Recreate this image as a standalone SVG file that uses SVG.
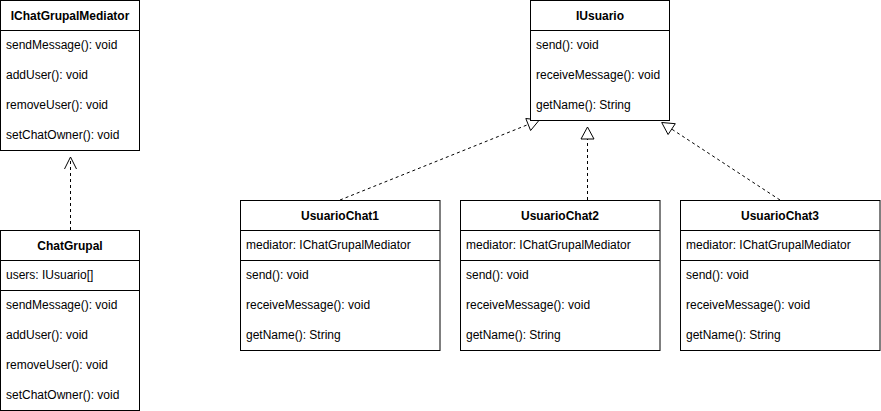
<svg xmlns="http://www.w3.org/2000/svg" width="881" height="411" viewBox="0 0 881 411">
<style>
.box{fill:#fff;stroke:#000;stroke-width:1}
.div{stroke:#000;stroke-width:1;fill:none}
.t{font-family:"Liberation Sans",Arial,sans-serif;font-size:12px;fill:#000}
.h{font-family:"Liberation Sans",Arial,sans-serif;font-size:12px;font-weight:bold;fill:#000;text-anchor:middle}
.dash{stroke:#000;stroke-width:1;fill:none;stroke-dasharray:3 3}
.tri{fill:#fff;stroke:#000;stroke-width:1}
.open{fill:none;stroke:#000;stroke-width:1}
</style>
<rect width="881" height="411" fill="#fff"/>
<g id="connectors">
  <line class="dash" x1="70.5" y1="230" x2="70.5" y2="158"/>
  <polyline class="open" points="64.5,169 70.5,157 76.5,169"/>
  <line class="dash" x1="340" y1="200" x2="528.2" y2="124.5"/>
  <polygon class="tri" points="539.3,120 530.6,130.5 525.8,118.5"/>
  <line class="dash" x1="587.5" y1="200" x2="587.5" y2="139"/>
  <polygon class="tri" points="587.5,127 594,139 581,139"/>
  <line class="dash" x1="780" y1="200" x2="671.7" y2="129.1"/>
  <polygon class="tri" points="661.7,122.5 675.3,123.7 668.1,134.5"/>
</g>
<g id="IChatGrupalMediator">
  <rect class="box" x="0.5" y="0.5" width="139" height="150"/>
  <line class="div" x1="0.5" y1="30.5" x2="139.5" y2="30.5"/>
  <text class="h" x="70" y="20">IChatGrupalMediator</text>
  <text class="t" x="6" y="49">sendMessage(): void</text>
  <text class="t" x="6" y="79">addUser(): void</text>
  <text class="t" x="6" y="109">removeUser(): void</text>
  <text class="t" x="6" y="139">setChatOwner(): void</text>
</g>
<g id="ChatGrupal">
  <rect class="box" x="0.5" y="230.5" width="139" height="180"/>
  <line class="div" x1="0.5" y1="260.5" x2="139.5" y2="260.5"/>
  <line class="div" x1="0.5" y1="290.5" x2="139.5" y2="290.5"/>
  <text class="h" x="70" y="250">ChatGrupal</text>
  <text class="t" x="6" y="279">users: IUsuario[]</text>
  <text class="t" x="6" y="309">sendMessage(): void</text>
  <text class="t" x="6" y="339">addUser(): void</text>
  <text class="t" x="6" y="369">removeUser(): void</text>
  <text class="t" x="6" y="399">setChatOwner(): void</text>
</g>
<g id="IUsuario">
  <rect class="box" x="530.5" y="0.5" width="139" height="120"/>
  <line class="div" x1="530.5" y1="30.5" x2="669.5" y2="30.5"/>
  <text class="h" x="600" y="20">IUsuario</text>
  <text class="t" x="536" y="49">send(): void</text>
  <text class="t" x="536" y="79">receiveMessage(): void</text>
  <text class="t" x="536" y="109">getName(): String</text>
</g>
<g id="UsuarioChat1">
  <rect class="box" x="240.5" y="200.5" width="199.5" height="150"/>
  <line class="div" x1="240.5" y1="230.5" x2="440" y2="230.5"/>
  <line class="div" x1="240.5" y1="260.5" x2="440" y2="260.5"/>
  <text class="h" x="340" y="220">UsuarioChat1</text>
  <text class="t" x="246" y="249">mediator: IChatGrupalMediator</text>
  <text class="t" x="246" y="279">send(): void</text>
  <text class="t" x="246" y="309">receiveMessage(): void</text>
  <text class="t" x="246" y="339">getName(): String</text>
</g>
<g id="UsuarioChat2">
  <rect class="box" x="460.5" y="200.5" width="199.5" height="150"/>
  <line class="div" x1="460.5" y1="230.5" x2="660" y2="230.5"/>
  <line class="div" x1="460.5" y1="260.5" x2="660" y2="260.5"/>
  <text class="h" x="560" y="220">UsuarioChat2</text>
  <text class="t" x="466" y="249">mediator: IChatGrupalMediator</text>
  <text class="t" x="466" y="279">send(): void</text>
  <text class="t" x="466" y="309">receiveMessage(): void</text>
  <text class="t" x="466" y="339">getName(): String</text>
</g>
<g id="UsuarioChat3">
  <rect class="box" x="680.5" y="200.5" width="199.5" height="150"/>
  <line class="div" x1="680.5" y1="230.5" x2="880" y2="230.5"/>
  <line class="div" x1="680.5" y1="260.5" x2="880" y2="260.5"/>
  <text class="h" x="780" y="220">UsuarioChat3</text>
  <text class="t" x="686" y="249">mediator: IChatGrupalMediator</text>
  <text class="t" x="686" y="279">send(): void</text>
  <text class="t" x="686" y="309">receiveMessage(): void</text>
  <text class="t" x="686" y="339">getName(): String</text>
</g>
</svg>
